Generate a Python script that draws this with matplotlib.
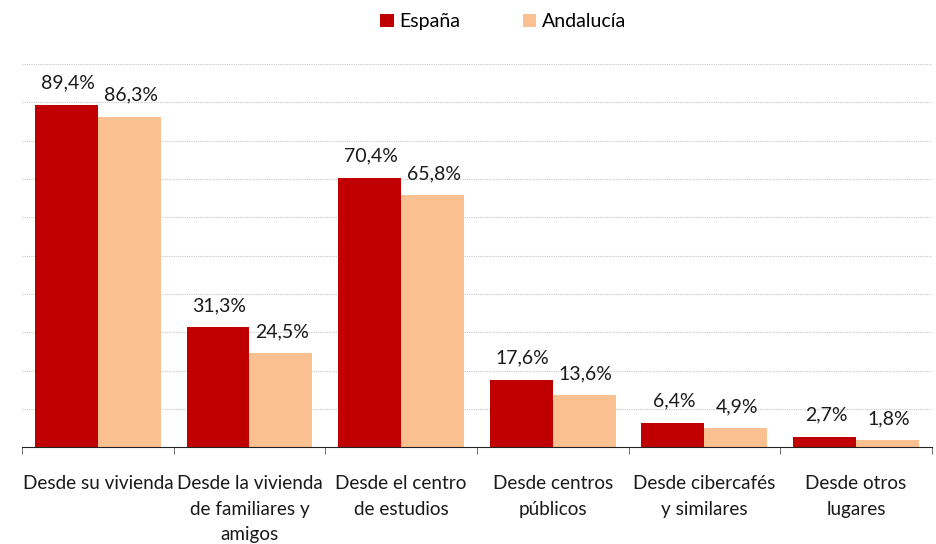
import numpy as np
import matplotlib.pyplot as plt

categorias = ["Desde su vivienda", "Desde la vivienda\nde familiares y\namigos",
              "Desde el centro\nde estudios", "Desde centros\npúblicos",
              "Desde cibercafés\ny similares", "Desde otros\nlugares"]
espana = [89.4, 31.3, 70.4, 17.6, 6.4, 2.7]
andalucia = [86.3, 24.5, 65.8, 13.6, 4.9, 1.8]
series = ["España", "Andalucía"]
colores = ["#C00000", "#FAC090"]

plt.rcParams['font.family'] = ['Lato', 'DejaVu Sans']

fig = plt.figure(figsize=(9.37, 5.44), dpi=100)
ax = fig.add_axes([0.0235, 0.178, 0.971, 0.704])

x = np.arange(len(categorias))
w = 0.415
for i, (vals, nombre, col) in enumerate(zip([espana, andalucia], series, colores)):
    pos = x + (i - 0.5) * w
    ax.bar(pos, vals, width=w, color=col, label=nombre, zorder=2)
    for p, v in zip(pos, vals):
        ax.text(p + 0.01, v + 3.4, f"{v:.1f}%".replace(".", ","), ha="center", va="bottom",
                fontsize=14, color="#1a1a1a")

ax.set_xlim(-0.5, len(categorias) - 0.5)
ax.set_ylim(0, 100)
ax.set_yticks(np.arange(10, 101, 10))
ax.yaxis.grid(True, linestyle=(0, (1, 1)), color="#c8c8c8", linewidth=0.8, zorder=0)
ax.tick_params(axis="y", length=0, labelleft=False)

ax.set_xticks(x)
ax.set_xticklabels(categorias, fontsize=13.6, color="#1a1a1a", linespacing=1.62)
ax.set_xticks(np.arange(-0.5, len(categorias), 1), minor=True)
ax.tick_params(axis="x", which="major", length=0, pad=20)
ax.tick_params(axis="x", which="minor", length=5, color="#555555")

for s in ["top", "right", "left"]:
    ax.spines[s].set_visible(False)
ax.spines["bottom"].set_color("#222222")

fig.legend(loc="upper center", bbox_to_anchor=(0.537, 1.008), ncol=2, frameon=False,
           fontsize=14, handlelength=0.7, handleheight=0.7, columnspacing=3.2,
           handletextpad=0.3)

fig.savefig("out.png", dpi=100)
